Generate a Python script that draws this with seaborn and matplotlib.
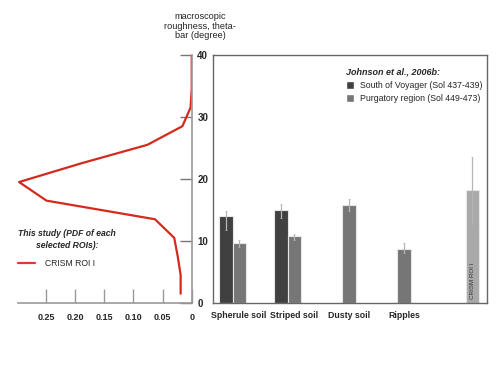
import numpy as np
import pandas as pd
import matplotlib
matplotlib.use("Agg")
import matplotlib.pyplot as plt
import seaborn as sns
from matplotlib.lines import Line2D
from matplotlib.patches import Patch

# PDF of theta-bar for CRISM ROI I (left panel)
theta = [40.0, 37.5, 34.5, 31.5, 28.5, 25.5, 22.5, 19.5, 16.5, 13.5, 10.5, 7.5, 4.5, 1.5]
pdf = [0.0, 0.0, 0.0, 0.002, 0.016, 0.076, 0.19, 0.296, 0.249, 0.063, 0.030, 0.024, 0.019, 0.019]

# Johnson et al. 2006b and CRISM roughness (right panel)
categories = ["Spherule soil", "Striped soil", "Dusty soil", "Ripples", "CRISM ROI I"]
tick_labels = ["Spherule soil", "Striped soil", "Dusty soil", "Ripples", ""]
series = ["South of Voyager (Sol 437-439)", "Purgatory region (Sol 449-473)", "CRISM ROI I"]
south = [14.0, 15.0, np.nan, np.nan, np.nan]
south_lo = [2.2, 1.3, np.nan, np.nan, np.nan]
south_hi = [0.8, 0.9, np.nan, np.nan, np.nan]
purg = [9.7, 10.8, 15.8, 8.7, np.nan]
purg_lo = [0.6, 0.7, 0.9, 0.7, np.nan]
purg_hi = [0.4, 0.3, 1.0, 1.0, np.nan]
crism = [np.nan, np.nan, np.nan, np.nan, 18.2]
crism_lo = [np.nan, np.nan, np.nan, np.nan, 5.4]
crism_hi = [np.nan, np.nan, np.nan, np.nan, 5.4]

colors = ["#404040", "#767676", "#a9a9a9"]

sns.set_theme(style="white")
plt.rcParams["font.family"] = ["Liberation Sans", "DejaVu Sans"]

fig = plt.figure(figsize=(4.98, 3.72), dpi=100)
ax1 = fig.add_axes([0.036, 0.1855, 0.349, 0.667])
ax2 = fig.add_axes([0.428, 0.1855, 0.550, 0.667])

# ---- left panel: PDF curve
sns.lineplot(x=pdf, y=theta, sort=False, estimator=None, color="#d42a1e",
             linewidth=1.6, ax=ax1)
ax1.set_xlim(0.298, 0)
ax1.set_ylim(0, 40)
ax1.set_xticks([0.25, 0.20, 0.15, 0.10, 0.05, 0])
ax1.set_xticklabels(["0.25", "0.20", "0.15", "0.10", "0.05", "0"],
                    fontsize=6.5, fontweight="bold")
ax1.set_yticks([0, 10, 20, 30, 40])
ax1.set_yticklabels(["0", "10", "20", "30", "40"], fontsize=7, fontweight="bold")
ax1.yaxis.tick_right()
ax1.tick_params(axis="x", direction="in", length=10, width=1, color="#999999",
                pad=7, bottom=True)
ax1.tick_params(axis="y", direction="in", length=9, width=1, color="#777777",
                pad=4, right=True, left=False)
for s in ["left", "top"]:
    ax1.spines[s].set_visible(False)
for s in ["bottom", "right"]:
    ax1.spines[s].set_color("#999999")
    ax1.spines[s].set_linewidth(1.2)

leg1 = ax1.legend(handles=[Line2D([], [], color="#e03a28", lw=1.6)],
                  labels=["CRISM ROI I"], title="This study (PDF of each\nselected ROIs):",
                  loc="upper left", bbox_to_anchor=(0.0, 0.30), frameon=False,
                  borderpad=0, borderaxespad=0, alignment="left",
                  fontsize=6.2, handlelength=2.0, handletextpad=1.1)
leg1.get_title().set_fontsize(6.2)
leg1.get_title().set_fontweight("bold")
leg1.get_title().set_fontstyle("italic")
leg1.get_title().set_multialignment("center")
leg1.get_title().set_linespacing(1.45)
leg1._legend_box.sep = 7

fig.text(0.402, 0.93, "macroscopic\nroughness, theta-\nbar (degree)",
         ha="center", va="center", fontsize=6.6, color="#222222", linespacing=1.1)

# ---- right panel: bars
rows = []
for name, vals in zip(series, [south, purg, crism]):
    for cat, v in zip(categories, vals):
        if not np.isnan(v):
            rows.append({"category": cat, "series": name, "value": v})
df = pd.DataFrame(rows)

group_w = 0.72
sns.barplot(data=df, x="category", y="value", hue="series", order=categories,
            hue_order=series, palette=colors, width=group_w, dodge=True,
            errorbar=None, edgecolor="#e6e6e6", linewidth=0.8, legend=False, ax=ax2)

bar_w = group_w / len(series)
for k, (vals, lo, hi) in enumerate([(south, south_lo, south_hi),
                                    (purg, purg_lo, purg_hi),
                                    (crism, crism_lo, crism_hi)]):
    for i, v in enumerate(vals):
        if np.isnan(v):
            continue
        xpos = i + (k - 1) * bar_w
        ax2.errorbar(xpos, v, yerr=[[lo[i]], [hi[i]]], fmt="none",
                     ecolor="#b5b5b5", elinewidth=0.9, capsize=0.8, capthick=0.5)

ax2.text(4 + bar_w, 0.6, "CRISM ROI I", rotation=90, ha="center", va="bottom",
         fontsize=4.5, color="#333333")

ax2.set_xlim(-0.473, 4.51)
ax2.set_ylim(0, 40)
ax2.set_yticks([])
ax2.set_xticklabels(tick_labels, fontsize=6.3, fontweight="bold")
ax2.tick_params(axis="x", length=0, pad=6)
ax2.set_xlabel("")
ax2.set_ylabel("")
for s in ax2.spines.values():
    s.set_color("#666666")
    s.set_linewidth(1.0)

handles = [Patch(facecolor=colors[0]), Patch(facecolor=colors[1])]
leg2 = ax2.legend(handles=handles, labels=series[:2], title="Johnson et al., 2006b:",
                  loc="upper left", bbox_to_anchor=(0.455, 0.98), frameon=False,
                  fontsize=6.3, handlelength=0.9, handleheight=1.1,
                  handletextpad=0.7, labelspacing=0.45, alignment="left")
leg2.get_title().set_fontsize(6.5)
leg2.get_title().set_fontweight("bold")
leg2.get_title().set_fontstyle("italic")

fig.savefig("out.png", dpi=100)
